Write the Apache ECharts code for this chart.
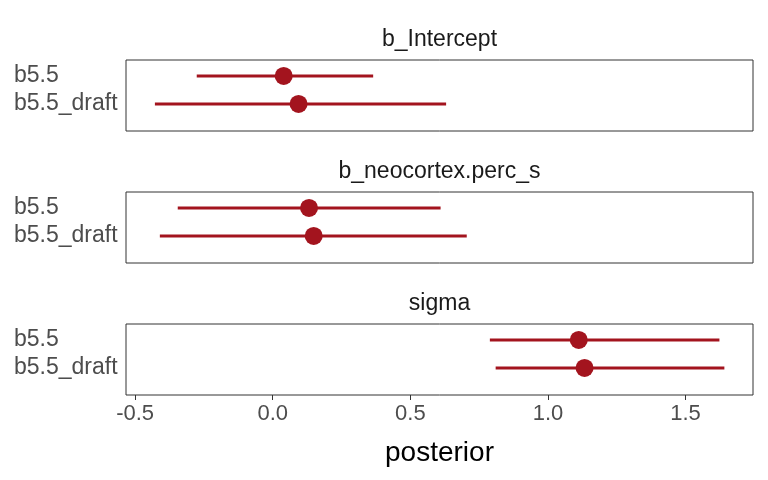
<!DOCTYPE html>
<html>
<head>
<meta charset="utf-8">
<script src="https://cdn.jsdelivr.net/npm/echarts@6/dist/echarts.min.js"></script>
<style>html,body{margin:0;padding:0;background:#fff}#c{width:768px;height:480px}</style>
</head>
<body>
<div id="c"></div>
<script>
const params = ['b_Intercept', 'b_neocortex.perc_s', 'sigma'];
const models = ['b5.5', 'b5.5_draft'];
const estB55 = [0.040, 0.132, 1.112];
const loB55 = [-0.276, -0.345, 0.789];
const hiB55 = [0.365, 0.610, 1.623];
const estDraft = [0.094, 0.149, 1.133];
const loDraft = [-0.428, -0.410, 0.810];
const hiDraft = [0.630, 0.705, 1.641];
const xTicks = [-0.5, 0, 0.5, 1.0, 1.5];
const xTitle = 'posterior';

const FONT = '"Liberation Sans", Arial, sans-serif';
const RED = '#a3141e';
const gridTops = [60, 192, 324];
const grids = [], xAxes = [], yAxes = [], series = [], graphics = [];

params.forEach((p, i) => {
  grids.push({ left: 126, top: gridTops[i], width: 627, height: 71, show: true,
    borderColor: '#333333', borderWidth: 1, backgroundColor: '#fff' });
  const last = i === params.length - 1;
  xAxes.push({
    gridIndex: i, type: 'value', min: -0.533, max: 1.745,
    splitLine: { show: false },
    axisLine: { show: false },
    axisTick: { show: last, length: 5, lineStyle: { color: '#333333', width: 1 }, customValues: xTicks },
    axisLabel: { show: last, customValues: xTicks, formatter: v => v.toFixed(1),
      fontFamily: FONT, fontSize: 22, color: '#4d4d4d', margin: 8 },
    name: last ? xTitle : '', nameLocation: 'middle', nameGap: 44,
    nameTextStyle: { fontFamily: FONT, fontSize: 28, color: '#000' }
  });
  yAxes.push({
    gridIndex: i, type: 'value', inverse: true, min: 0.43, max: 2.97,
    splitLine: { show: false }, axisLine: { show: false }, axisTick: { show: false },
    axisLabel: { customValues: [1, 2], formatter: v => models[Math.round(v) - 1],
      align: 'left', margin: 112, fontFamily: FONT, fontSize: 23, color: '#4d4d4d' }
  });
  const rows = [[loB55[i], hiB55[i], 1], [loDraft[i], hiDraft[i], 2]];
  series.push({
    type: 'custom', xAxisIndex: i, yAxisIndex: i, data: rows,
    renderItem: (pr, api) => {
      const a = api.coord([api.value(0), api.value(2)]);
      const b = api.coord([api.value(1), api.value(2)]);
      return { type: 'line', shape: { x1: a[0], y1: a[1], x2: b[0], y2: b[1] },
        style: { stroke: RED, lineWidth: 3 } };
    }
  });
  series.push({
    type: 'scatter', xAxisIndex: i, yAxisIndex: i, symbolSize: 18,
    itemStyle: { color: RED, opacity: 1 }, z: 5,
    data: [[estB55[i], 1], [estDraft[i], 2]]
  });
  graphics.push({ type: 'text', x: 126 + 627 / 2, y: gridTops[i] - 20,
    style: { text: p, font: '23px ' + FONT, fill: '#1a1a1a',
      textAlign: 'center', textVerticalAlign: 'middle' } });
});

const chart = echarts.init(document.getElementById('c'), null, { renderer: 'canvas' });
chart.setOption({
  animation: false,
  backgroundColor: '#fff',
  grid: grids, xAxis: xAxes, yAxis: yAxes, series: series,
  graphic: graphics
});
</script>
</body>
</html>
